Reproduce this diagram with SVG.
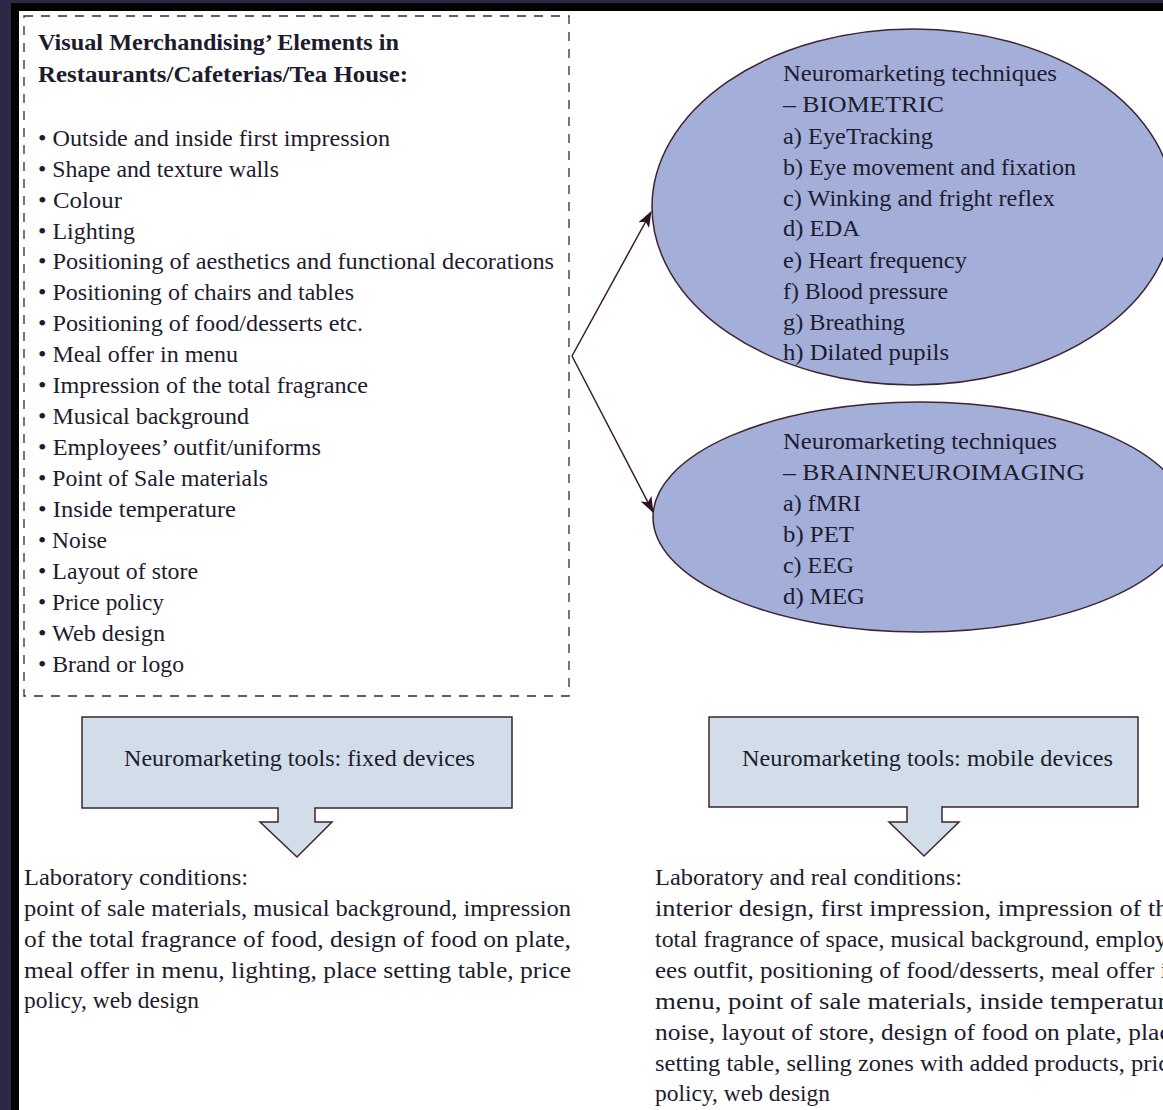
<svg xmlns="http://www.w3.org/2000/svg" width="1163" height="1110" viewBox="0 0 1163 1110">
  <style>
    .t { font-family: "Liberation Serif", "DejaVu Serif", serif; font-size: 23px; fill: #1e1b2e; }
    .b { font-weight: bold; }
    .dash { fill: none; stroke: #3b2730; stroke-width: 1.3; stroke-dasharray: 9 8; }
    .oval { fill: #a3afd9; stroke: #3d2430; stroke-width: 1.5; }
    .tool { fill: #d1dde9; stroke: #3d2430; stroke-width: 1.5; }
    .link { fill: none; stroke: #3a1c28; stroke-width: 1.5; }
  </style>
  <defs>
    <marker id="head" viewBox="0 0 16 12" refX="15" refY="6" markerWidth="16" markerHeight="12" markerUnits="userSpaceOnUse" orient="auto">
      <path d="M0,0 L16,6 L0,12 L4,6 z" fill="#2a1420"/>
    </marker>
  </defs>

  <!-- page frame -->
  <rect x="0" y="0" width="1163" height="1110" fill="#2b2946"/>
  <rect x="11" y="3" width="1152" height="1107" fill="#000"/>
  <rect x="19" y="11" width="1144" height="1099" fill="#fff"/>

  <!-- visual merchandising elements -->
  <g id="elements">
    <rect class="dash" x="24" y="16" width="545" height="680"/>
    <text class="t b" x="38" y="50" textLength="361" lengthAdjust="spacingAndGlyphs">Visual Merchandising’ Elements in</text>
    <text class="t b" x="38" y="82" textLength="370" lengthAdjust="spacingAndGlyphs">Restaurants/Cafeterias/Tea House:</text>
    <text class="t" x="38" y="146" textLength="352" lengthAdjust="spacingAndGlyphs">• Outside and inside first impression</text>
    <text class="t" x="38" y="177" textLength="241" lengthAdjust="spacingAndGlyphs">• Shape and texture walls</text>
    <text class="t" x="38" y="208" textLength="84" lengthAdjust="spacingAndGlyphs">• Colour</text>
    <text class="t" x="38" y="239" textLength="97" lengthAdjust="spacingAndGlyphs">• Lighting</text>
    <text class="t" x="38" y="269" textLength="516" lengthAdjust="spacingAndGlyphs">• Positioning of aesthetics and functional decorations</text>
    <text class="t" x="38" y="300" textLength="316" lengthAdjust="spacingAndGlyphs">• Positioning of chairs and tables</text>
    <text class="t" x="38" y="331" textLength="325" lengthAdjust="spacingAndGlyphs">• Positioning of food/desserts etc.</text>
    <text class="t" x="38" y="362" textLength="200" lengthAdjust="spacingAndGlyphs">• Meal offer in menu</text>
    <text class="t" x="38" y="393" textLength="330" lengthAdjust="spacingAndGlyphs">• Impression of the total fragrance</text>
    <text class="t" x="38" y="424" textLength="211" lengthAdjust="spacingAndGlyphs">• Musical background</text>
    <text class="t" x="38" y="455" textLength="283" lengthAdjust="spacingAndGlyphs">• Employees’ outfit/uniforms</text>
    <text class="t" x="38" y="486" textLength="230" lengthAdjust="spacingAndGlyphs">• Point of Sale materials</text>
    <text class="t" x="38" y="517" textLength="198" lengthAdjust="spacingAndGlyphs">• Inside temperature</text>
    <text class="t" x="38" y="548" textLength="69" lengthAdjust="spacingAndGlyphs">• Noise</text>
    <text class="t" x="38" y="579" textLength="160" lengthAdjust="spacingAndGlyphs">• Layout of store</text>
    <text class="t" x="38" y="610" textLength="126" lengthAdjust="spacingAndGlyphs">• Price policy</text>
    <text class="t" x="38" y="641" textLength="127" lengthAdjust="spacingAndGlyphs">• Web design</text>
    <text class="t" x="38" y="672" textLength="146" lengthAdjust="spacingAndGlyphs">• Brand or logo</text>
  </g>

  <!-- biometric techniques -->
  <g id="biometric">
    <ellipse class="oval" cx="913" cy="207" rx="261" ry="178"/>
    <text class="t" x="783" y="81" textLength="274" lengthAdjust="spacingAndGlyphs">Neuromarketing techniques</text>
    <text class="t" x="783" y="112" textLength="161" lengthAdjust="spacingAndGlyphs">– BIOMETRIC</text>
    <text class="t" x="783" y="144" textLength="150" lengthAdjust="spacingAndGlyphs">a) EyeTracking</text>
    <text class="t" x="783" y="175" textLength="293" lengthAdjust="spacingAndGlyphs">b) Eye movement and fixation</text>
    <text class="t" x="783" y="206" textLength="272" lengthAdjust="spacingAndGlyphs">c) Winking and fright reflex</text>
    <text class="t" x="783" y="236" textLength="77" lengthAdjust="spacingAndGlyphs">d) EDA</text>
    <text class="t" x="783" y="268" textLength="184" lengthAdjust="spacingAndGlyphs">e) Heart frequency</text>
    <text class="t" x="783" y="299" textLength="165" lengthAdjust="spacingAndGlyphs">f) Blood pressure</text>
    <text class="t" x="783" y="330" textLength="122" lengthAdjust="spacingAndGlyphs">g) Breathing</text>
    <text class="t" x="783" y="360" textLength="166" lengthAdjust="spacingAndGlyphs">h) Dilated pupils</text>
  </g>

  <!-- brain neuroimaging techniques -->
  <g id="neuroimaging">
    <ellipse class="oval" cx="920" cy="517" rx="267" ry="115"/>
    <text class="t" x="783" y="449" textLength="274" lengthAdjust="spacingAndGlyphs">Neuromarketing techniques</text>
    <text class="t" x="783" y="480" textLength="302" lengthAdjust="spacingAndGlyphs">– BRAINNEUROIMAGING</text>
    <text class="t" x="783" y="511" textLength="78" lengthAdjust="spacingAndGlyphs">a) fMRI</text>
    <text class="t" x="783" y="542" textLength="71" lengthAdjust="spacingAndGlyphs">b) PET</text>
    <text class="t" x="783" y="573" textLength="71" lengthAdjust="spacingAndGlyphs">c) EEG</text>
    <text class="t" x="783" y="604" textLength="82" lengthAdjust="spacingAndGlyphs">d) MEG</text>
  </g>

  <!-- connectors -->
  <g id="connectors">
    <line class="link" x1="572" y1="356" x2="651" y2="212" marker-end="url(#head)"/>
    <line class="link" x1="572" y1="356" x2="653" y2="512" marker-end="url(#head)"/>
  </g>

  <!-- fixed devices -->
  <g id="fixed-devices">
    <path class="tool" d="M82,717 H512 V808 H315 V822 H332 L297,857 L260,822 H278 V808 H82 Z"/>
    <text class="t" x="124" y="766" textLength="351" lengthAdjust="spacingAndGlyphs">Neuromarketing tools: fixed devices</text>
  </g>

  <!-- mobile devices -->
  <g id="mobile-devices">
    <path class="tool" d="M709,717 H1138 V807 H942 V822 H959 L924,856 L889,822 H907 V807 H709 Z"/>
    <text class="t" x="742" y="766" textLength="371" lengthAdjust="spacingAndGlyphs">Neuromarketing tools: mobile devices</text>
  </g>

  <!-- laboratory conditions -->
  <g id="lab-conditions">
    <text class="t" x="24" y="885" textLength="224" lengthAdjust="spacingAndGlyphs">Laboratory conditions:</text>
    <text class="t" x="24" y="916" textLength="547" lengthAdjust="spacingAndGlyphs">point of sale materials, musical background, impression</text>
    <text class="t" x="24" y="947" textLength="547" lengthAdjust="spacingAndGlyphs">of the total fragrance of food, design of food on plate,</text>
    <text class="t" x="24" y="978" textLength="547" lengthAdjust="spacingAndGlyphs">meal offer in menu, lighting, place setting table, price</text>
    <text class="t" x="24" y="1008" textLength="175" lengthAdjust="spacingAndGlyphs">policy, web design</text>
  </g>

  <!-- laboratory and real conditions -->
  <g id="real-conditions">
    <text class="t" x="655" y="885" textLength="307" lengthAdjust="spacingAndGlyphs">Laboratory and real conditions:</text>
    <text class="t" x="655" y="916" textLength="525" lengthAdjust="spacingAndGlyphs">interior design, first impression, impression of the</text>
    <text class="t" x="655" y="947" textLength="520" lengthAdjust="spacingAndGlyphs">total fragrance of space, musical background, employ-</text>
    <text class="t" x="655" y="978" textLength="525" lengthAdjust="spacingAndGlyphs">ees outfit, positioning of food/desserts, meal offer in</text>
    <text class="t" x="655" y="1009" textLength="530" lengthAdjust="spacingAndGlyphs">menu, point of sale materials, inside temperature,</text>
    <text class="t" x="655" y="1040" textLength="527" lengthAdjust="spacingAndGlyphs">noise, layout of store, design of food on plate, place</text>
    <text class="t" x="655" y="1071" textLength="525" lengthAdjust="spacingAndGlyphs">setting table, selling zones with added products, price</text>
    <text class="t" x="655" y="1101" textLength="175" lengthAdjust="spacingAndGlyphs">policy, web design</text>
  </g>
</svg>
